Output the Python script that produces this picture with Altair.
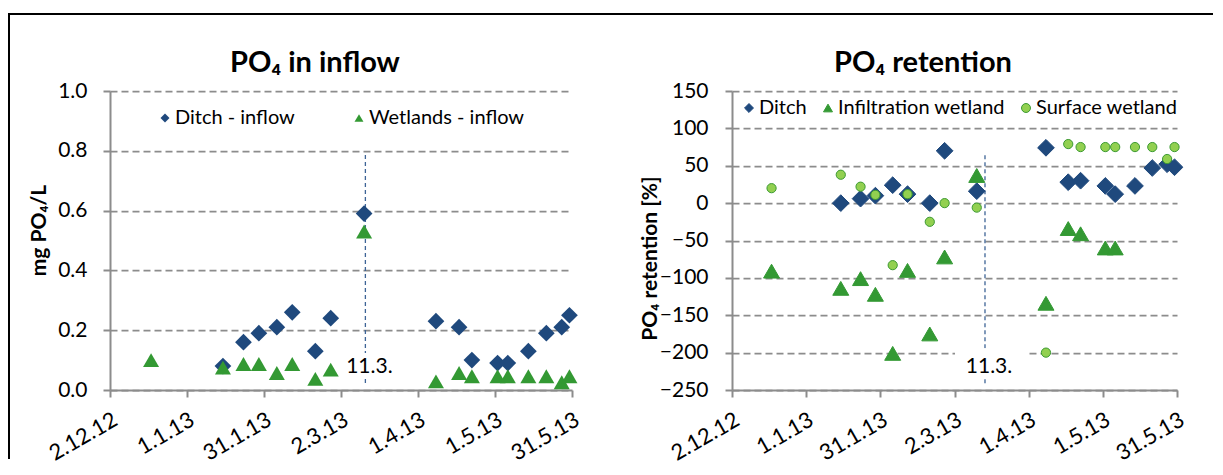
import altair as alt
import pandas as pd

FONT = "Lato"
GRAY = "#8C8C8C"
BLUE = "#1F497D"
GREEN = "#339933"
LIGHT_GREEN = "#92D050"
CIRCLE_EDGE = "#3C9A32"
VLINE_COLOR = "#3E6496"

# ---------------- data ----------------
sample_dates = [
    "2012-12-18", "2013-01-15", "2013-01-23", "2013-01-29", "2013-02-05",
    "2013-02-11", "2013-02-20", "2013-02-26", "2013-03-11", "2013-04-08",
    "2013-04-17", "2013-04-22", "2013-05-02", "2013-05-06", "2013-05-14",
    "2013-05-21", "2013-05-27", "2013-05-30",
]

# PO4 in inflow (mg PO4/L)
ditch_inflow_dates = sample_dates[1:]
ditch_inflow = [0.08, 0.16, 0.19, 0.21, 0.26, 0.13, 0.24, 0.59, 0.23,
                0.21, 0.10, 0.09, 0.09, 0.13, 0.19, 0.21, 0.25]
wetland_inflow_dates = sample_dates
wetland_inflow = [0.10, 0.075, 0.087, 0.087, 0.057, 0.087, 0.037, 0.068, 0.53,
                  0.029, 0.057, 0.046, 0.046, 0.046, 0.046, 0.046, 0.026, 0.046]

# PO4 retention (%)
ditch_ret_dates = sample_dates[1:]
ditch_ret = [0, 6, 10, 24, 12, 0, 70, 16, 74, 28, 30, 23, 12, 23, 47, 52, 48]
infil_ret_dates = sample_dates[:14]
infil_ret = [-91, -114, -101, -122, -201, -90, -175, -72, 37, -134, -34, -41, -60, -60]
surface_ret_dates = sample_dates
surface_ret = [20, 38, 22, 11, -83, 12, -25, 0, -6, -200, 79, 75, 75, 75, 75, 75, 59, 75]

L_SERIES = ["Ditch - inflow", "Wetlands - inflow"]
R_SERIES = ["Ditch", "Infiltration wetland", "Surface wetland"]
TITLES = ["PO₄ in inflow", "PO₄ retention"]
Y_TITLES = ["mg PO₄/L", "PO₄ retention [%]"]

# marker line "11.3." (date, y from, y to) and its text box
vline_left = {"date": "2013-03-11 12:00", "value": 0.786, "value2": 0.02}
vline_right = {"date": "2013-03-14 08:00", "value": 64, "value2": -242}
label_left = {"date": "2013-03-11 12:00", "value": 0.077, "text": "11.3."}
label_right = {"date": "2013-03-14 08:00", "value": -219, "text": "11.3."}
box_left = {"date": "2013-03-03 04:00", "date2": "2013-03-23", "value": 0.124, "value2": 0.037}
box_right = {"date": "2013-03-02 05:00", "date2": "2013-03-31 17:00", "value": -194, "value2": -233}

x_ticks = [(2012, 12, 2), (2013, 1, 1), (2013, 1, 31), (2013, 3, 2),
           (2013, 4, 1), (2013, 5, 1), (2013, 5, 31)]
left_y_ticks = [0.0, 0.2, 0.4, 0.6, 0.8, 1.0]
right_y_ticks = [-250, -200, -150, -100, -50, 0, 50, 100, 150]


def frame(series, dates, values):
    return pd.DataFrame({"series": series, "date": pd.to_datetime(dates), "value": values})


left_df = pd.concat([
    frame(L_SERIES[0], ditch_inflow_dates, ditch_inflow),
    frame(L_SERIES[1], wetland_inflow_dates, wetland_inflow),
])
right_df = pd.concat([
    frame(R_SERIES[0], ditch_ret_dates, ditch_ret),
    frame(R_SERIES[1], infil_ret_dates, infil_ret),
    frame(R_SERIES[2], surface_ret_dates, surface_ret),
])


def one(d):
    out = {}
    for k, v in d.items():
        out[k] = [pd.Timestamp(v)] if k.startswith("date") else [v]
    return pd.DataFrame(out)


def dt(t):
    return alt.DateTime(year=t[0], month=t[1], date=t[2])


# ---------------- encodings ----------------
def x_enc():
    return alt.X(
        "date:T",
        scale=alt.Scale(domain=[dt(x_ticks[0]), dt(x_ticks[-1])], nice=False),
        axis=alt.Axis(
            values=[dt(t) for t in x_ticks], format="%-d.%-m.%y", title=None,
            labelAngle=-30, labelFont=FONT, labelFontSize=22, labelColor="black",
            labelPadding=12, labelFlush=False, labelOverlap=False, labelBound=False,
            tickSize=7, tickColor=GRAY, tickWidth=2, domainColor=GRAY, domainWidth=2,
            grid=False,
        ),
    )


def y_enc(domain, ticks, fmt, title, title_x, title_y, pad):
    return alt.Y(
        "value:Q",
        scale=alt.Scale(domain=domain, nice=False, zero=False),
        axis=alt.Axis(
            values=ticks, format=fmt, title=title,
            labelFont=FONT, labelFontSize=21, labelColor="black", labelPadding=pad,
            tickSize=7, tickColor=GRAY, tickWidth=2, domainColor=GRAY, domainWidth=2,
            grid=True, gridColor=GRAY, gridWidth=1.75, gridDash=[7, 4],
            titleFont=FONT, titleFontSize=21, titleFontWeight="bold", titleColor="black",
            titleAngle=270, titleX=title_x, titleY=title_y, titleAlign="center",
            titleBaseline="bottom",
        ),
    )


def legend(x, y, colpad):
    return alt.Legend(
        title=None, orient="none", legendX=x, legendY=y, direction="horizontal",
        labelFont=FONT, labelFontSize=20, labelColor="black", labelOffset=0,
        labelLimit=400, symbolSize=80, symbolStrokeWidth=1, columnPadding=colpad,
        padding=0,
    )


def decorations(y):
    vline = alt.Chart(one(y["vline"])).mark_rule(
        color=VLINE_COLOR, strokeDash=[4, 3], strokeWidth=1.3
    ).encode(x=x_enc(), y=y["yenc"], y2="value2:Q")
    box = alt.Chart(one(y["box"])).mark_rect(color="white", opacity=1).encode(
        x=x_enc(), x2="date2:T", y=y["yenc"], y2="value2:Q")
    label = alt.Chart(one(y["label"])).mark_text(
        font=FONT, fontSize=21, color="black", align="center", baseline="middle", dx=4
    ).encode(x=x_enc(), y=y["yenc"], text="text:N")
    return [vline, box, label]


def panel_title(text, cx):
    return alt.Chart(pd.DataFrame({"t": [text]})).mark_text(
        font=FONT, fontSize=29, fontWeight="bold", color="black",
        align="center", baseline="alphabetic",
    ).encode(x=alt.value(cx), y=alt.value(-19), text="t:N")


one_row = pd.DataFrame({"k": [0]})

# ---------------- left panel ----------------
yl = y_enc([0, 1], left_y_ticks, ".1f", Y_TITLES[0], -61, 139, 16)
leg_l = legend(45, 17, 54)
col_l = alt.Color("series:N", scale=alt.Scale(domain=L_SERIES, range=[BLUE, GREEN]), legend=leg_l)
shp_l = alt.Shape("series:N", scale=alt.Scale(domain=L_SERIES, range=["diamond", "triangle-up"]), legend=leg_l)

border_top = alt.Chart(one_row).mark_rule(color="black", strokeWidth=2).encode(
    x=alt.value(-101), x2=alt.value(1103), y=alt.value(-77))
border_left = alt.Chart(one_row).mark_rule(color="black", strokeWidth=2).encode(
    x=alt.value(-101), y=alt.value(-78), y2=alt.value(368))

left_layers = decorations({"vline": vline_left, "box": box_left, "label": label_left, "yenc": yl})
for s, size in zip(L_SERIES, [280, 256]):
    left_layers.append(
        alt.Chart(left_df).transform_filter(alt.datum.series == s)
        .mark_point(filled=True, size=size, opacity=1)
        .encode(x=x_enc(), y=yl, color=col_l, shape=shp_l)
    )
left = alt.layer(border_top, border_left, panel_title(TITLES[0], 205), *left_layers).properties(
    width=462, height=299,
)

# ---------------- right panel ----------------
yr = y_enc([-250, 150], right_y_ticks, "d", Y_TITLES[1], -72, 167, 17)
leg_r = legend(7, 7, 11)
col_r = alt.Color("series:N", scale=alt.Scale(domain=R_SERIES, range=[BLUE, GREEN, LIGHT_GREEN]), legend=leg_r)
shp_r = alt.Shape("series:N", scale=alt.Scale(domain=R_SERIES, range=["diamond", "triangle-up", "circle"]), legend=leg_r)
stk_r = alt.Stroke("series:N", scale=alt.Scale(domain=R_SERIES, range=[BLUE, GREEN, CIRCLE_EDGE]), legend=leg_r)

right_layers = decorations({"vline": vline_right, "box": box_right, "label": label_right, "yenc": yr})
for s, size in zip(R_SERIES, [280, 256, 85]):
    right_layers.append(
        alt.Chart(right_df).transform_filter(alt.datum.series == s)
        .mark_point(filled=True, size=size, opacity=1, strokeWidth=1)
        .encode(x=x_enc(), y=yr, color=col_r, shape=shp_r, stroke=stk_r)
    )
right = alt.layer(panel_title(TITLES[1], 191), *right_layers).properties(
    width=445, height=299,
)

chart = (
    alt.hconcat(left, right, spacing=160, bounds="flush")
    .resolve_scale(color="independent", shape="independent", stroke="independent")
    .properties(padding={"left": 0, "right": 0, "top": 4, "bottom": 0}, background="white")
    .configure_view(stroke=None)
)

chart.save("out.html", embed_options={"renderer": "svg", "actions": False})
